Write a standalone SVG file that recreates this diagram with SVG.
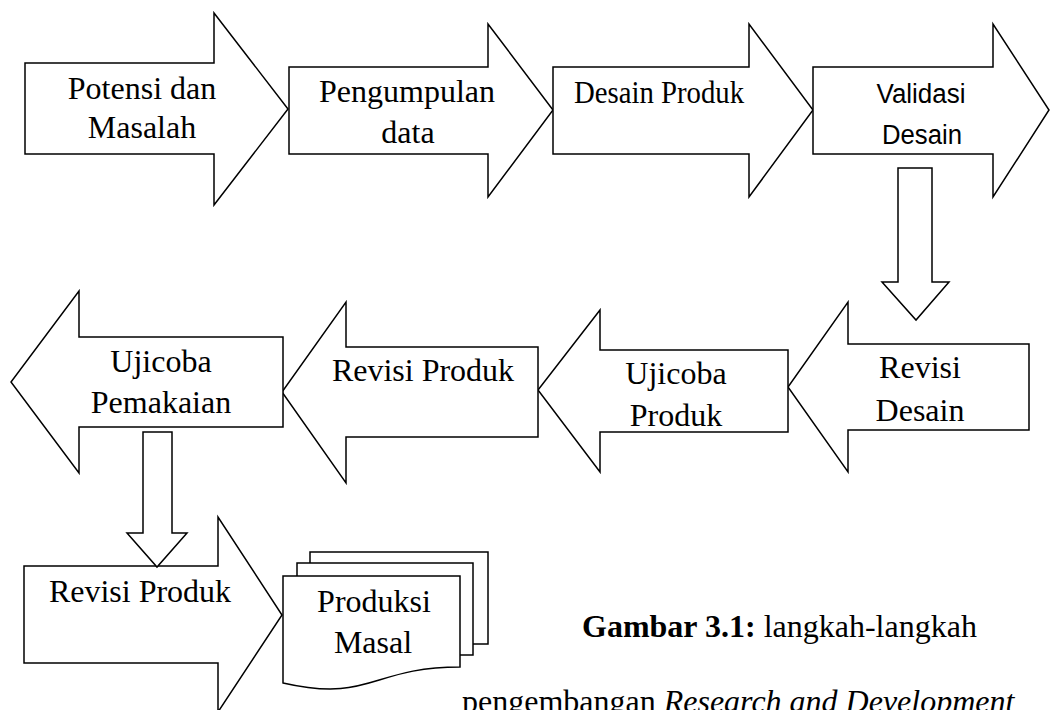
<svg xmlns="http://www.w3.org/2000/svg" width="1050" height="710" viewBox="0 0 1050 710">
<style>
.shape{fill:#fff;stroke:#000;stroke-width:1.5;stroke-linejoin:miter}
.t{font-family:"Liberation Serif","Times New Roman",serif;font-size:32px;fill:#000;text-anchor:middle}
.s{font-family:"Liberation Sans",Arial,sans-serif;font-size:27px;fill:#000;text-anchor:middle}
.cap{font-family:"Liberation Serif","Times New Roman",serif;font-size:32px;fill:#000}
</style>
<rect width="1050" height="710" fill="#fff"/>
<g id="n1">
<polygon class="shape" points="25,63 214,63 214,13 288,109 214,205 214,154 25,154"/>
<text class="t" x="142" y="99">Potensi dan</text>
<text class="t" x="142" y="138">Masalah</text>
</g>
<g id="n2">
<polygon class="shape" points="289,67 488,67 488,24 553,110 488,197 488,154 289,154"/>
<text class="t" x="407" y="102">Pengumpulan</text>
<text class="t" x="408" y="143">data</text>
</g>
<g id="n3">
<polygon class="shape" points="553,67 749,67 749,24 813,110 749,197 749,154 553,154"/>
<text class="t" x="659" y="103" font-size="30" textLength="170" lengthAdjust="spacingAndGlyphs">Desain Produk</text>
</g>
<g id="n4">
<polygon class="shape" points="813,67 993,67 993,24 1049,110 993,197 993,154 813,154"/>
<text class="s" x="921" y="103" textLength="89" lengthAdjust="spacingAndGlyphs">Validasi</text>
<text class="s" x="922" y="144" textLength="80" lengthAdjust="spacingAndGlyphs">Desain</text>
</g>
<g id="n5">
<polygon class="shape" points="1029,344 848,344 848,302 788,387 848,472 848,430 1029,430"/>
<text class="t" x="920" y="378">Revisi</text>
<text class="t" x="920" y="421">Desain</text>
</g>
<g id="n6">
<polygon class="shape" points="788,350 600,350 600,310 538,390 600,472 600,432 788,432"/>
<text class="t" x="676" y="384">Ujicoba</text>
<text class="t" x="676" y="426">Produk</text>
</g>
<g id="n7">
<polygon class="shape" points="538,347 346,347 346,302 282,392 346,483 346,437 538,437"/>
<text class="t" x="423" y="381">Revisi Produk</text>
</g>
<g id="n8">
<polygon class="shape" points="283,337 79,337 79,291 11,382 79,473 79,427 283,427"/>
<text class="t" x="161" y="372">Ujicoba</text>
<text class="t" x="161" y="413">Pemakaian</text>
</g>
<g id="n9">
<polygon class="shape" points="24,566 218,566 218,517 282,615 218,712 218,663 24,663"/>
<text class="t" x="140" y="602">Revisi Produk</text>
</g>
<g id="n10">
<rect class="shape" x="310" y="552" width="178" height="92"/>
<rect class="shape" x="297" y="563" width="176" height="92"/>
<path class="shape" d="M283,576 H460 V667 C371,667 371,703 283,683 Z"/>
<text class="t" x="374" y="612">Produksi</text>
<text class="t" x="373" y="653">Masal</text>
</g>
<g id="connectors">
<polygon class="shape" points="898,168 932,168 932,282 949,282 916,320 882,282 898,282"/>
<polygon class="shape" points="143,432 172,432 172,533 187,533 157,567 127,533 143,533"/>
</g>
<g id="caption">
<text class="cap" x="582" y="637"><tspan font-weight="bold">Gambar 3.1:</tspan> langkah-langkah</text>
<text class="cap" x="462" y="712">pengembangan <tspan font-style="italic">Research and Development</tspan></text>
</g>
</svg>
